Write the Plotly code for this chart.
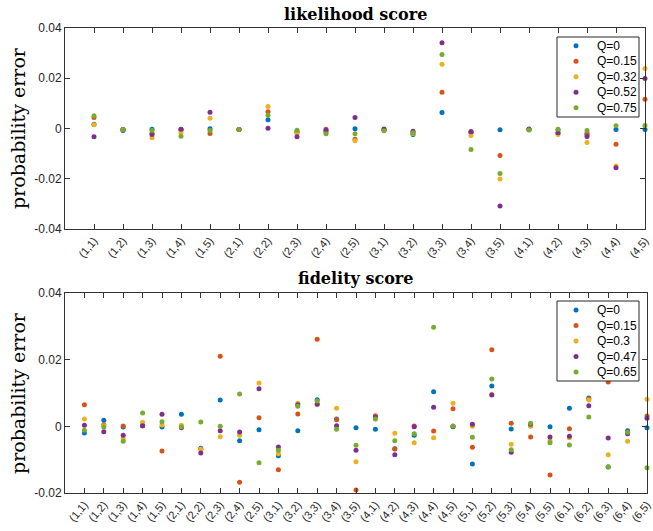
import plotly.graph_objects as go

# ---------------- data ----------------
labels_like = ["(1,1)", "(1,2)", "(1,3)", "(1,4)", "(1,5)", "(2,1)", "(2,2)", "(2,3)", "(2,4)", "(2,5)",
               "(3,1)", "(3,2)", "(3,3)", "(3,4)", "(3,5)", "(4,1)", "(4,2)", "(4,3)", "(4,4)", "(4,5)"]
names_like = ["Q=0", "Q=0.15", "Q=0.32", "Q=0.52", "Q=0.75"]
like_q0 = [0.0017, -0.0008, -0.0003, -0.0004, -0.0001, -0.0004, 0.0035, -0.0012, -0.0014, -0.0001,
           -0.0006, -0.0024, 0.0064, -0.0017, -0.0005, -0.0004, -0.0006, -0.0020, -0.0004, -0.0004]
like_q15 = [0.0044, -0.0004, -0.0019, -0.0005, -0.0020, -0.0004, 0.0067, -0.0015, -0.0003, -0.0043,
            -0.0004, -0.0015, 0.0144, -0.0012, -0.0107, -0.0004, -0.0020, -0.0024, -0.0063, 0.0116]
like_q32 = [0.0015, -0.0004, -0.0037, -0.0016, 0.0041, -0.0004, 0.0088, -0.0020, -0.0016, -0.0049,
            -0.0007, -0.0020, 0.0256, -0.0028, -0.0201, -0.0004, -0.0024, -0.0056, -0.0149, 0.0239]
like_q52 = [-0.0033, -0.0004, -0.0024, -0.0003, 0.0065, -0.0004, 0.0001, -0.0033, -0.0007, 0.0044,
            -0.0002, -0.0011, 0.0341, -0.0013, -0.0308, -0.0002, -0.0017, -0.0032, -0.0156, 0.0199]
like_q75 = [0.0051, -0.0004, -0.0008, -0.0031, -0.0008, -0.0004, 0.0053, -0.0007, -0.0021, -0.0021,
            -0.0009, -0.0017, 0.0295, -0.0084, -0.0179, -0.0006, -0.0003, -0.0008, 0.0011, 0.0012]

labels_fid = ["(1,1)", "(1,2)", "(1,3)", "(1,4)", "(1,5)", "(2,1)", "(2,2)", "(2,3)", "(2,4)", "(2,5)",
              "(3,1)", "(3,2)", "(3,3)", "(3,4)", "(3,5)", "(4,1)", "(4,2)", "(4,3)", "(4,4)", "(4,5)",
              "(5,1)", "(5,2)", "(5,3)", "(5,4)", "(5,5)", "(6,1)", "(6,2)", "(6,3)", "(6,4)", "(6,5)"]
names_fid = ["Q=0", "Q=0.15", "Q=0.3", "Q=0.47", "Q=0.65"]
fid_q0 = [-0.0020, 0.0018, -0.0002, 0.0002, -0.0002, 0.0036, -0.0066, 0.0079, -0.0043, -0.0010,
          -0.0088, -0.0013, 0.0080, 0.0022, -0.0004, -0.0009, -0.0067, -0.0027, 0.0104, -0.0001,
          -0.0113, 0.0121, -0.0008, 0.0002, -0.0001, 0.0054, 0.0085, -0.0122, -0.0013, -0.0004]
fid_q15 = [0.0065, 0.0005, 0.0001, 0.0002, -0.0074, -0.0002, -0.0069, 0.0210, -0.0168, 0.0026,
           -0.0130, 0.0037, 0.0261, 0.0020, -0.0191, 0.0032, -0.0068, 0.0001, -0.0014, 0.0053,
           -0.0063, 0.0230, 0.0009, -0.0032, -0.0146, -0.0007, 0.0082, 0.0133, -0.0018, 0.0031]
fid_q30 = [0.0022, 0.0002, -0.0037, 0.0012, 0.0004, 0.0003, -0.0069, -0.0031, -0.0027, 0.0130,
           -0.0082, 0.0069, 0.0066, 0.0054, -0.0106, 0.0030, -0.0021, -0.0049, -0.0034, 0.0069,
           0.0000, 0.0096, -0.0054, 0.0000, -0.0044, -0.0034, 0.0079, -0.0085, -0.0045, 0.0081]
fid_q47 = [0.0003, -0.0016, -0.0027, 0.0002, 0.0036, -0.0004, -0.0080, -0.0013, -0.0017, 0.0113,
           -0.0062, 0.0065, 0.0066, 0.0002, -0.0072, 0.0029, -0.0085, -0.0001, 0.0057, 0.0000,
           0.0006, 0.0094, -0.0078, 0.0006, -0.0032, -0.0030, 0.0062, -0.0035, -0.0022, 0.0024]
fid_q65 = [-0.0012, -0.0002, -0.0045, 0.0040, 0.0014, -0.0002, 0.0013, 0.0000, 0.0097, -0.0109,
           -0.0072, 0.0060, 0.0076, -0.0009, -0.0057, 0.0022, -0.0043, -0.0022, 0.0297, 0.0001,
           -0.0033, 0.0142, -0.0070, 0.0009, -0.0049, -0.0056, 0.0028, -0.0121, -0.0018, -0.0124]

like_series = [like_q0, like_q15, like_q32, like_q52, like_q75]
fid_series = [fid_q0, fid_q15, fid_q30, fid_q47, fid_q65]
colors = ["#0072BD", "#D95319", "#EDB120", "#7E2F8E", "#77AC30"]

# ---------------- figure ----------------
W, H = 653, 531
fig = go.Figure()

x_like = list(range(1, len(labels_like) + 1))
x_fid = list(range(1, len(labels_fid) + 1))

for name, ys, c in zip(names_like, like_series, colors):
    fig.add_trace(go.Scatter(x=x_like, y=ys, mode="markers", name=name, showlegend=False,
                             marker=dict(color=c, size=5), cliponaxis=False,
                             xaxis="x", yaxis="y"))
for name, ys, c in zip(names_fid, fid_series, colors):
    fig.add_trace(go.Scatter(x=x_fid, y=ys, mode="markers", name=name, showlegend=False,
                             marker=dict(color=c, size=5), cliponaxis=False,
                             xaxis="x2", yaxis="y2"))


def px_x(p):
    return p / W


def px_y(p):
    return 1 - p / H


axis_common = dict(showline=True, linecolor="#333333", linewidth=1, mirror="ticks",
                   ticks="inside", ticklen=5, tickcolor="#333333", showgrid=False,
                   zeroline=False, automargin=False,
                   tickfont=dict(family="Liberation Sans", size=12, color="#262626"))

fig.update_layout(
    width=W, height=H,
    margin=dict(l=0, r=0, t=0, b=0, autoexpand=False),
    paper_bgcolor="white", plot_bgcolor="white",
    showlegend=False,
    xaxis=dict(domain=[px_x(65), px_x(645)], range=[0, len(labels_like)],
               tickvals=x_like, ticktext=labels_like, tickangle=-50, anchor="y", **axis_common),
    yaxis=dict(domain=[px_y(229), px_y(28)], range=[-0.04, 0.04],
               tickvals=[-0.04, -0.02, 0, 0.02, 0.04],
               ticktext=["-0.04", "-0.02", "0", "0.02", "0.04"], anchor="x", **axis_common),
    xaxis2=dict(domain=[px_x(65), px_x(647)], range=[0, len(labels_fid)],
                tickvals=x_fid, ticktext=labels_fid, tickangle=-50, anchor="y2", **axis_common),
    yaxis2=dict(domain=[px_y(493), px_y(293)], range=[-0.02, 0.04],
                tickvals=[-0.02, 0, 0.02, 0.04],
                ticktext=["-0.02", "0", "0.02", "0.04"], anchor="x2", **axis_common),
)
fig.update_xaxes(tickfont=dict(size=11))

# ---- legends (box + marker + label, drawn in paper pixels) ----
legend_font = dict(family="Liberation Sans", size=12, color="#000000")


def add_legend(names, box_top, box_bottom, first_y, step):
    fig.add_shape(type="rect", xref="paper", yref="paper",
                  x0=px_x(557), x1=px_x(639), y0=px_y(box_bottom), y1=px_y(box_top),
                  line=dict(color="#262626", width=1), fillcolor="white", layer="above")
    for i, (name, c) in enumerate(zip(names, colors)):
        yc = first_y + i * step
        fig.add_shape(type="circle", xref="paper", yref="paper",
                      x0=px_x(576 - 2.5), x1=px_x(576 + 2.5), y0=px_y(yc + 2.5), y1=px_y(yc - 2.5),
                      line=dict(width=0), fillcolor=c, layer="above")
        fig.add_annotation(text=name, xref="paper", yref="paper", x=px_x(595), y=px_y(yc),
                           xanchor="left", yanchor="middle", showarrow=False, font=legend_font)


add_legend(names_like, 37, 117, 45.7, 15.5)
add_legend(names_fid, 301, 381, 310, 15.5)

title_font = dict(family="DejaVu Serif", size=16, color="#000000", weight="bold")
label_font = dict(family="DejaVu Serif", size=19, color="#000000")
fig.add_annotation(text="likelihood score", xref="paper", yref="paper", x=px_x(356), y=px_y(14),
                   xanchor="center", yanchor="middle", showarrow=False, font=title_font)
fig.add_annotation(text="fidelity score", xref="paper", yref="paper", x=px_x(356), y=px_y(278),
                   xanchor="center", yanchor="middle", showarrow=False, font=title_font)
fig.add_annotation(text="probability error", xref="paper", yref="paper", x=px_x(18), y=px_y(128),
                   xanchor="center", yanchor="middle", showarrow=False, textangle=-90, font=label_font)
fig.add_annotation(text="probability error", xref="paper", yref="paper", x=px_x(18), y=px_y(393),
                   xanchor="center", yanchor="middle", showarrow=False, textangle=-90, font=label_font)

fig.write_html("out.html", config={"displayModeBar": False},
               post_script="document.body.style.margin='0';")
